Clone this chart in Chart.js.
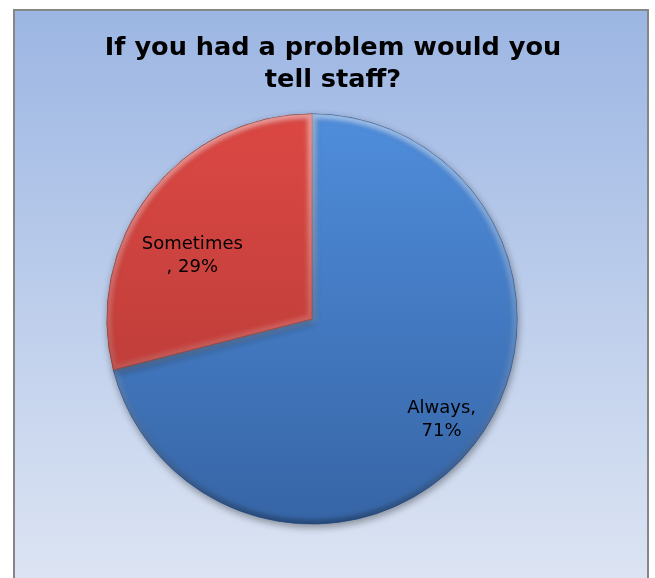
<!DOCTYPE html>
<html>
<head>
<meta charset="utf-8">
<script src="https://cdn.jsdelivr.net/npm/chart.js@4/dist/chart.umd.min.js"></script>
<style>
  html, body { margin: 0; padding: 0; background: #ffffff; }
  #wrap { width: 655px; height: 578px; position: relative; }
</style>
</head>
<body>
<div id="wrap"><canvas id="c" width="655" height="578"></canvas></div>
<script>
// ---- data ----
const titleLines = ['If you had a problem would you', 'tell staff?'];
const categories = ['Always', 'Sometimes'];
const values = [71, 29];
const labelLines = [['Always,', '71%'], ['Sometimes', ', 29%']];

// ---- styling ----
const sliceColors = [
  { top: '#4f8ddb', bottom: '#3765a6' },
  { top: '#dc4844', bottom: '#b03834' }
];
// label placement: fraction of radius and angle nudge (degrees)
const labelPlace = [ { r: 0.80, da: 0 }, { r: 0.66, da: -10 } ];

const framePlugin = {
  id: 'frame',
  beforeDraw(chart) {
    const ctx = chart.ctx;
    ctx.save();
    ctx.fillStyle = '#ffffff';
    ctx.fillRect(0, 0, chart.width, chart.height);
    const g = ctx.createLinearGradient(0, 10, 0, 578);
    g.addColorStop(0, '#9cb6e3');
    g.addColorStop(1, '#dce4f3');
    ctx.fillStyle = g;
    ctx.fillRect(14, 10, 634, 570);
    ctx.strokeStyle = '#868686';
    ctx.lineWidth = 2;
    ctx.strokeRect(14, 10, 634, 580);
    // title
    ctx.fillStyle = '#000000';
    ctx.font = 'bold 25.6px Verdana, "DejaVu Sans", sans-serif';
    ctx.textAlign = 'center';
    ctx.textBaseline = 'alphabetic';
    titleLines.forEach((t, i) => ctx.fillText(t, 333, 55 + i * 32));
    ctx.restore();
  },
  beforeDatasetsDraw(chart) {
    const ctx = chart.ctx;
    ctx.save();
    ctx.shadowColor = 'rgba(0,0,0,0.35)';
    ctx.shadowBlur = 7;
    ctx.shadowOffsetX = 1;
    ctx.shadowOffsetY = 3;
  },
  afterDatasetsDraw(chart) {
    const ctx = chart.ctx;
    ctx.restore();
    const meta = chart.getDatasetMeta(0);
    // soft inner bevel on each slice
    meta.data.forEach((arc) => {
      const p = arc.getProps(['x', 'y', 'startAngle', 'endAngle', 'outerRadius'], true);
      ctx.save();
      ctx.beginPath();
      ctx.moveTo(p.x, p.y);
      ctx.arc(p.x, p.y, p.outerRadius, p.startAngle, p.endAngle);
      ctx.closePath();
      ctx.clip();
      const g = ctx.createLinearGradient(0, p.y - p.outerRadius, 0, p.y + p.outerRadius);
      g.addColorStop(0, 'rgba(255,255,255,0.45)');
      g.addColorStop(0.5, 'rgba(255,255,255,0.18)');
      g.addColorStop(1, 'rgba(0,0,0,0.25)');
      ctx.strokeStyle = g;
      ctx.lineWidth = 9;
      ctx.filter = 'blur(2px)';
      ctx.beginPath();
      ctx.moveTo(p.x, p.y);
      ctx.arc(p.x, p.y, p.outerRadius, p.startAngle, p.endAngle);
      ctx.closePath();
      ctx.stroke();
      ctx.restore();
    });
    ctx.save();
    ctx.fillStyle = '#000000';
    ctx.font = '18px Verdana, "DejaVu Sans", sans-serif';
    ctx.textAlign = 'center';
    ctx.textBaseline = 'middle';
    meta.data.forEach((arc, i) => {
      const p = arc.getProps(['x', 'y', 'startAngle', 'endAngle', 'outerRadius'], true);
      const mid = (p.startAngle + p.endAngle) / 2 + labelPlace[i].da * Math.PI / 180;
      const r = p.outerRadius * labelPlace[i].r;
      const cx = p.x + Math.cos(mid) * r;
      const cy = p.y + Math.sin(mid) * r;
      const lines = labelLines[i];
      const lh = 23;
      lines.forEach((t, j) => ctx.fillText(t, cx, cy + (j - (lines.length - 1) / 2) * lh));
    });
    ctx.restore();
  }
};

new Chart(document.getElementById('c'), {
  type: 'pie',
  data: {
    labels: categories,
    datasets: [{
      data: values,
      backgroundColor(context) {
        const chart = context.chart;
        const a = chart.chartArea;
        if (!a) return sliceColors[context.dataIndex].top;
        const g = chart.ctx.createLinearGradient(0, a.top, 0, a.bottom);
        g.addColorStop(0, sliceColors[context.dataIndex].top);
        g.addColorStop(1, sliceColors[context.dataIndex].bottom);
        return g;
      },
      borderColor: ['#2f5a96', '#8e2c29'],
      borderWidth: 1,
      radius: 205
    }]
  },
  options: {
    responsive: false,
    animation: false,
    rotation: 0,
    layout: { padding: { left: 107, right: 138, top: 114, bottom: 54 } },
    plugins: {
      legend: { display: false },
      title: { display: false },
      tooltip: { enabled: false }
    }
  },
  plugins: [framePlugin]
});
</script>
</body>
</html>
